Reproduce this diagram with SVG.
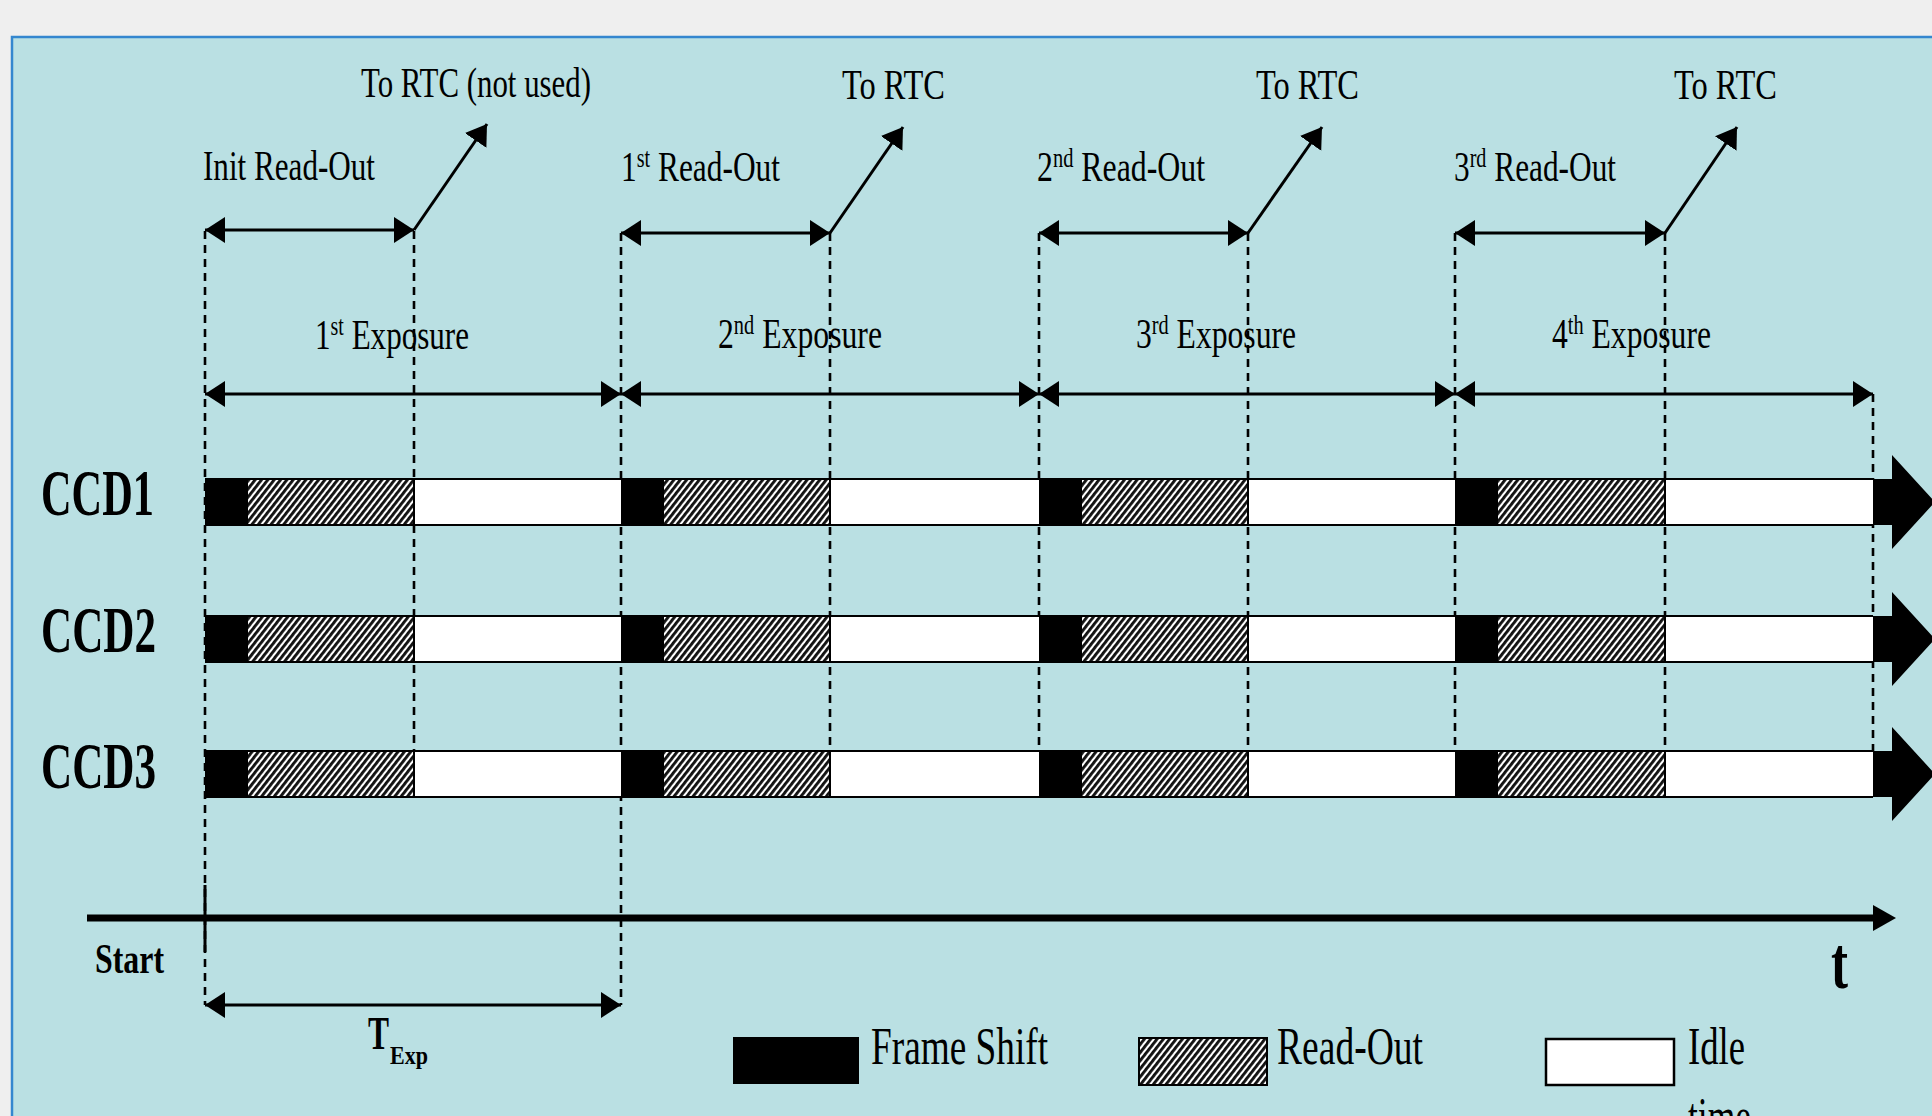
<svg xmlns="http://www.w3.org/2000/svg" width="1932" height="1116" viewBox="0 0 1932 1116">
<defs>
<style>
.lbl{font-family:"Liberation Serif","Times New Roman",serif;font-size:42px;fill:#000}
.bold{font-family:"Liberation Serif","Times New Roman",serif;font-weight:bold;fill:#000}
.big{font-size:42px}
.ccd{font-size:66px}
.leg{font-family:"Liberation Serif","Times New Roman",serif;font-size:52px;fill:#000}
.dash{stroke:#000;stroke-width:2.6;stroke-dasharray:8 6;fill:none}
.arr{stroke:#000;stroke-width:3.2;fill:none;marker-end:url(#ah);marker-start:url(#ah)}
.arr1{stroke:#000;stroke-width:3;fill:none;marker-end:url(#ah)}
.fs{fill:#000}
.ro{fill:url(#hatch)}
.idle{fill:#fff}
.edge{stroke:#000;stroke-width:2;fill:none}
</style>
<pattern id="hatch" width="5" height="5" patternUnits="userSpaceOnUse" patternTransform="rotate(38)">
<rect width="5" height="5" fill="#fff"/>
<rect width="2.9" height="5" fill="#111"/>
</pattern>
<marker id="ah" markerUnits="userSpaceOnUse" markerWidth="22" markerHeight="28" refX="20" refY="13" orient="auto-start-reverse" viewBox="0 0 22 28">
<path d="M0,0 L20,13 L0,26 Z" fill="#000"/>
</marker>
</defs>
<rect x="0" y="0" width="1932" height="1116" fill="#efefef"/>
<rect id="panel" x="12" y="37" width="1930" height="1090" fill="#bae0e3" stroke="#3487cf" stroke-width="2.5"/>

<g id="connectors">
<line class="dash" x1="205" y1="231" x2="205" y2="1005"/>
<line class="dash" x1="414" y1="231" x2="414" y2="797"/>
<line class="dash" x1="621" y1="233" x2="621" y2="1005"/>
<line class="dash" x1="830" y1="233" x2="830" y2="797"/>
<line class="dash" x1="1039" y1="233" x2="1039" y2="797"/>
<line class="dash" x1="1248" y1="233" x2="1248" y2="797"/>
<line class="dash" x1="1455" y1="233" x2="1455" y2="797"/>
<line class="dash" x1="1665" y1="233" x2="1665" y2="797"/>
<line class="dash" x1="1873" y1="394" x2="1873" y2="797"/>
<line class="arr" x1="205" y1="230" x2="414" y2="230"/>
<line class="arr" x1="621" y1="233" x2="830" y2="233"/>
<line class="arr" x1="1039" y1="233" x2="1248" y2="233"/>
<line class="arr" x1="1455" y1="233" x2="1665" y2="233"/>
<line class="arr1" x1="414" y1="230" x2="487" y2="124"/>
<line class="arr1" x1="830" y1="233" x2="903" y2="127"/>
<line class="arr1" x1="1248" y1="233" x2="1322" y2="127"/>
<line class="arr1" x1="1665" y1="233" x2="1737" y2="127"/>
<line class="arr" x1="205" y1="394" x2="621" y2="394"/>
<line class="arr" x1="621" y1="394" x2="1039" y2="394"/>
<line class="arr" x1="1039" y1="394" x2="1455" y2="394"/>
<line class="arr" x1="1455" y1="394" x2="1873" y2="394"/>
<line class="arr" x1="205" y1="1005" x2="621" y2="1005"/>
</g>

<g id="labels-top">
<text class="lbl" x="361" y="97" textLength="230" lengthAdjust="spacingAndGlyphs">To RTC (not used)</text>
<text class="lbl" x="842" y="99" textLength="103" lengthAdjust="spacingAndGlyphs">To RTC</text>
<text class="lbl" x="1256" y="99" textLength="103" lengthAdjust="spacingAndGlyphs">To RTC</text>
<text class="lbl" x="1674" y="99" textLength="103" lengthAdjust="spacingAndGlyphs">To RTC</text>
<text class="lbl" x="203" y="180" textLength="172" lengthAdjust="spacingAndGlyphs">Init Read-Out</text>
<text class="lbl" x="621" y="181" textLength="159" lengthAdjust="spacingAndGlyphs">1<tspan font-size="27" dy="-14">st</tspan><tspan dy="14"> Read-Out</tspan></text>
<text class="lbl" x="1037" y="181" textLength="168" lengthAdjust="spacingAndGlyphs">2<tspan font-size="27" dy="-14">nd</tspan><tspan dy="14"> Read-Out</tspan></text>
<text class="lbl" x="1454" y="181" textLength="162" lengthAdjust="spacingAndGlyphs">3<tspan font-size="27" dy="-14">rd</tspan><tspan dy="14"> Read-Out</tspan></text>
<text class="lbl" x="315" y="349" textLength="154" lengthAdjust="spacingAndGlyphs">1<tspan font-size="27" dy="-14">st</tspan><tspan dy="14"> Exposure</tspan></text>
<text class="lbl" x="718" y="348" textLength="164" lengthAdjust="spacingAndGlyphs">2<tspan font-size="27" dy="-14">nd</tspan><tspan dy="14"> Exposure</tspan></text>
<text class="lbl" x="1136" y="348" textLength="160" lengthAdjust="spacingAndGlyphs">3<tspan font-size="27" dy="-14">rd</tspan><tspan dy="14"> Exposure</tspan></text>
<text class="lbl" x="1552" y="348" textLength="159" lengthAdjust="spacingAndGlyphs">4<tspan font-size="27" dy="-14">th</tspan><tspan dy="14"> Exposure</tspan></text>
</g>

<g id="ccd1">
<text class="bold ccd" x="41" y="515" textLength="113" lengthAdjust="spacingAndGlyphs">CCD1</text>
<rect class="fs" x="205" y="479" width="43" height="46"/><rect class="ro" x="248" y="479" width="166" height="46"/><rect class="idle" x="414" y="479" width="207" height="46"/>
<rect class="fs" x="621" y="479" width="43" height="46"/><rect class="ro" x="664" y="479" width="166" height="46"/><rect class="idle" x="830" y="479" width="209" height="46"/>
<rect class="fs" x="1039" y="479" width="43" height="46"/><rect class="ro" x="1082" y="479" width="166" height="46"/><rect class="idle" x="1248" y="479" width="207" height="46"/>
<rect class="fs" x="1455" y="479" width="43" height="46"/><rect class="ro" x="1498" y="479" width="167" height="46"/><rect class="idle" x="1665" y="479" width="208" height="46"/>
<path class="edge" d="M205,479 H1873 M205,525 H1873 M414,479 V525 M830,479 V525 M1248,479 V525 M1665,479 V525"/>
<path class="fs" d="M1873,479 H1892 V455 L1935,502 L1892,549 V525 H1873 Z"/>
</g>

<g id="ccd2">
<text class="bold ccd" x="41" y="652" textLength="115" lengthAdjust="spacingAndGlyphs">CCD2</text>
<rect class="fs" x="205" y="616" width="43" height="46"/><rect class="ro" x="248" y="616" width="166" height="46"/><rect class="idle" x="414" y="616" width="207" height="46"/>
<rect class="fs" x="621" y="616" width="43" height="46"/><rect class="ro" x="664" y="616" width="166" height="46"/><rect class="idle" x="830" y="616" width="209" height="46"/>
<rect class="fs" x="1039" y="616" width="43" height="46"/><rect class="ro" x="1082" y="616" width="166" height="46"/><rect class="idle" x="1248" y="616" width="207" height="46"/>
<rect class="fs" x="1455" y="616" width="43" height="46"/><rect class="ro" x="1498" y="616" width="167" height="46"/><rect class="idle" x="1665" y="616" width="208" height="46"/>
<path class="edge" d="M205,616 H1873 M205,662 H1873 M414,616 V662 M830,616 V662 M1248,616 V662 M1665,616 V662"/>
<path class="fs" d="M1873,616 H1892 V592 L1935,639 L1892,686 V662 H1873 Z"/>
</g>

<g id="ccd3">
<text class="bold ccd" x="41" y="788" textLength="115" lengthAdjust="spacingAndGlyphs">CCD3</text>
<rect class="fs" x="205" y="751" width="43" height="46"/><rect class="ro" x="248" y="751" width="166" height="46"/><rect class="idle" x="414" y="751" width="207" height="46"/>
<rect class="fs" x="621" y="751" width="43" height="46"/><rect class="ro" x="664" y="751" width="166" height="46"/><rect class="idle" x="830" y="751" width="209" height="46"/>
<rect class="fs" x="1039" y="751" width="43" height="46"/><rect class="ro" x="1082" y="751" width="166" height="46"/><rect class="idle" x="1248" y="751" width="207" height="46"/>
<rect class="fs" x="1455" y="751" width="43" height="46"/><rect class="ro" x="1498" y="751" width="167" height="46"/><rect class="idle" x="1665" y="751" width="208" height="46"/>
<path class="edge" d="M205,751 H1873 M205,797 H1873 M414,751 V797 M830,751 V797 M1248,751 V797 M1665,751 V797"/>
<path class="fs" d="M1873,751 H1892 V727 L1935,774 L1892,821 V797 H1873 Z"/>
</g>

<g id="time-axis">
<line x1="87" y1="918" x2="1876" y2="918" stroke="#000" stroke-width="7"/>
<path d="M1873,905 L1896,918 L1873,931 Z" fill="#000"/>
<line x1="205" y1="885" x2="205" y2="952" stroke="#000" stroke-width="3"/>
<text class="bold big" x="95" y="973" textLength="69" lengthAdjust="spacingAndGlyphs">Start</text>
<text class="bold" font-size="75" x="1831" y="988" textLength="17" lengthAdjust="spacingAndGlyphs">t</text>
<text class="bold" font-size="46" x="368" y="1049" textLength="21" lengthAdjust="spacingAndGlyphs">T</text>
<text class="bold" font-size="26" x="390" y="1064" textLength="38" lengthAdjust="spacingAndGlyphs">Exp</text>
</g>

<g id="legend">
<rect x="733" y="1037" width="126" height="47" fill="#000"/>
<text class="leg" x="871" y="1064" textLength="177" lengthAdjust="spacingAndGlyphs">Frame Shift</text>
<rect x="1139" y="1038" width="128" height="47" fill="url(#hatch)" stroke="#000" stroke-width="2"/>
<text class="leg" x="1277" y="1064" textLength="146" lengthAdjust="spacingAndGlyphs">Read-Out</text>
<rect x="1546" y="1039" width="128" height="46" fill="#fff" stroke="#000" stroke-width="2.5"/>
<text class="leg" x="1688" y="1064" textLength="57" lengthAdjust="spacingAndGlyphs">Idle</text>
<text class="leg" x="1688" y="1134" textLength="63" lengthAdjust="spacingAndGlyphs">time</text>
</g>
</svg>
